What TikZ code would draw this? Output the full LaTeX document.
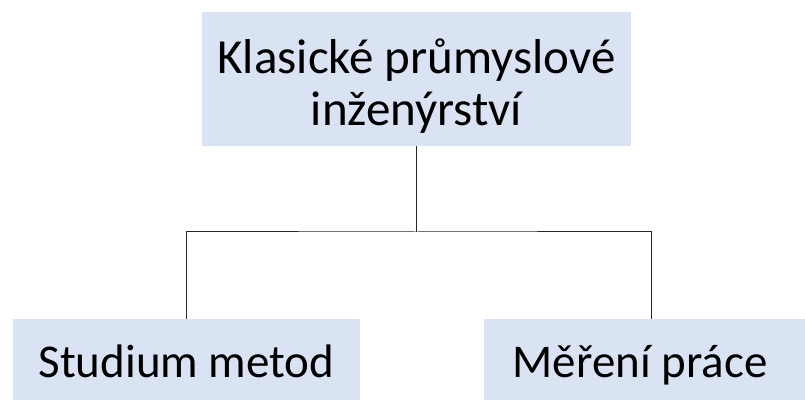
\documentclass[tikz,border=0pt]{standalone}
\usepackage{fontspec}
\setmainfont{Carlito}
\usetikzlibrary{positioning}
\definecolor{boxblue}{HTML}{DAE3F3}

\begin{document}
\begin{tikzpicture}[x=1pt, y=1pt,
			topbox/.style={fill=boxblue, inner sep=0pt, minimum width=429pt, minimum height=134pt, align=center, font=\fontsize{49}{52}\selectfont},
			leafbox/.style={fill=boxblue, inner sep=0pt, minimum height=82pt, text height=45pt, text depth=11pt, align=center, font=\fontsize{47}{53}\selectfont},
			link/.style={line width=1pt, draw=black!85}
			]
			\useasboundingbox (0,0) rectangle (805,399);
			\node[topbox] (classic) at (416.5,320) {\rule{0pt}{49pt}Klasické průmyslové\\inženýrství};
			\node[leafbox, minimum width=347pt] (methods) at (186.5,39) {Studium metod};
			\node[leafbox, minimum width=334pt] (work) at (651,39) {\hspace*{-22pt}Měření práce};
			
			\coordinate (junction) at (416.5,167);
			\draw[link] (classic.south) -- (junction);
			\draw[link] (methods.north) |- (junction) -| (work.north);
	\end{tikzpicture}
\end{document}
